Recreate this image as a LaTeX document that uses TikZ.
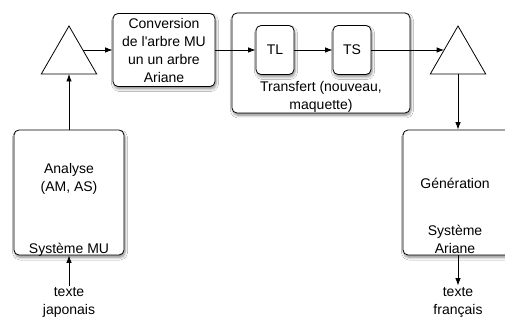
\documentclass[tikz,border=0pt]{standalone}
\usepackage{fontspec}
\setmainfont{Liberation Sans}
\usetikzlibrary{shapes.geometric,shadows.blur,arrows.meta,positioning}

\tikzset{
  boite/.style={draw,line width=0.8pt,rounded corners=5pt,fill=white,
    blur shadow={shadow blur steps=6,shadow xshift=1pt,shadow yshift=-2.5pt,
      shadow blur radius=2.5pt,shadow opacity=45},
    align=center,inner sep=2pt},
  triangle/.style={draw,line width=0.8pt,fill=white,regular polygon,
    regular polygon sides=3,minimum size=64pt,inner sep=0pt,outer sep=0pt},
  lbl/.style={align=center,inner sep=1pt}
}

\begin{document}
\begin{tikzpicture}[x=1pt,y=-1pt,font=\fontsize{14}{18}\selectfont,
  >={Latex[length=7.5pt,width=5.5pt]},line width=0.8pt]
\fill[white] (0,0) rectangle (505,320);
\useasboundingbox (0,0) rectangle (505,320);
% the two triangles
\node[triangle] (triG) at (69,58) {};
\node[triangle] (triD) at (458,58) {};
% the boxes of the top row
\node[boite,minimum width=102pt,minimum height=73pt] (conv) at (164,50)
  {Conversion\\de l\textquotesingle arbre MU\\un un arbre\\Ariane};
\node[boite,minimum width=178pt,minimum height=100pt] (transf) at (321,63) {};
\node[boite,minimum width=38pt,minimum height=49pt] (tl) at (275,50) {TL};
\node[boite,minimum width=38pt,minimum height=49pt] (ts) at (352,50) {TS};
\node[lbl] (transflbl) at (321,97) {Transfert (nouveau,\\maquette)};
% the two systems
\node[boite,minimum width=110pt,minimum height=125pt] (analyse) at (69,192.5) {};
\node[lbl] (analyselbl) at (69,179) {Analyse\\(AM, AS)};
\node[lbl,anchor=base] (mu) at (69,253) {Système MU};
\node[boite,minimum width=110pt,minimum height=125pt] (gen) at (458,192.5) {};
\node[lbl] (genlbl) at (455,183) {Génération};
\node[lbl] (ariane) at (455,239) {Système\\Ariane};
% input and output texts
\node[lbl] (japonais) at (69,302) {texte\\japonais};
\node[lbl] (francais) at (458,302) {texte\\français};
% the arrows
\draw[->] (japonais) -- (analyse.south);
\draw[->] (analyse.north) -- (triG.side 2);
\draw[->] (triG.side 3) -- (conv);
\draw[->] (conv) -- (tl);
\draw[->] (tl) -- (ts);
\draw[->] (ts) -- (triD.side 1);
\draw[->] (triD.side 2) -- (gen.north);
\draw[->] (gen.south) -- (francais);
\end{tikzpicture}
\end{document}
